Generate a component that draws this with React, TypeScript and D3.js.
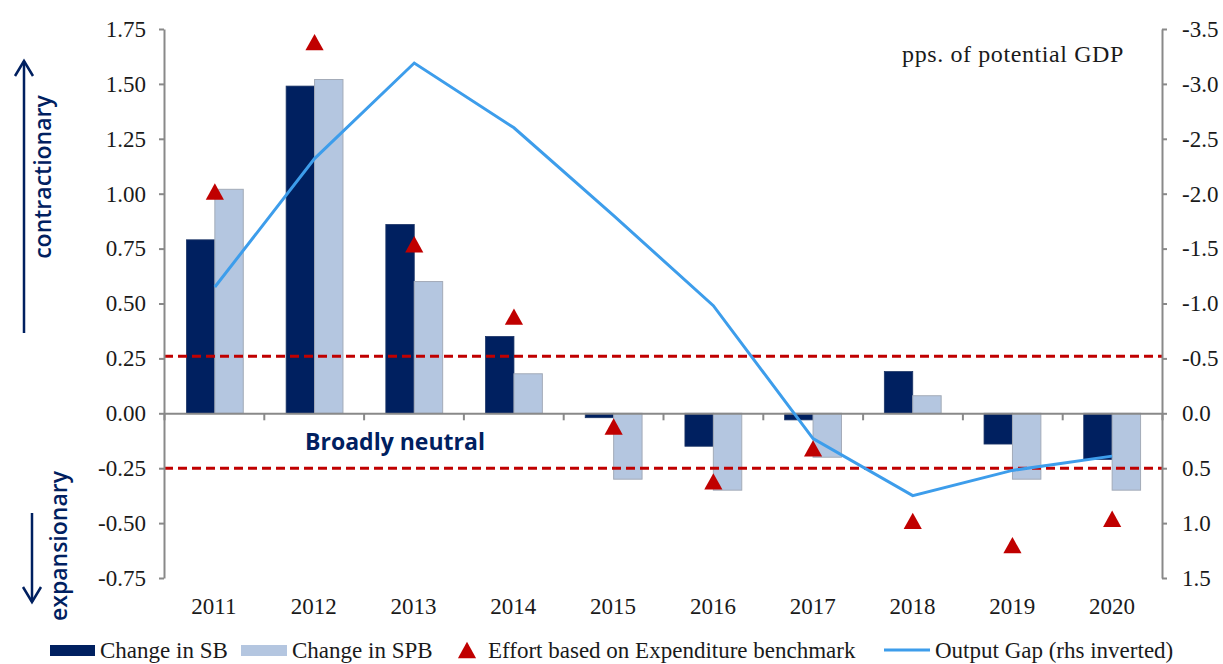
import { useEffect, useRef } from "react";
import { axisBottom, axisLeft, axisRight, line, scaleBand, scaleLinear, select, symbol } from "d3";

const years = ["2011", "2012", "2013", "2014", "2015", "2016", "2017", "2018", "2019", "2020"];
const changeSB = [0.79, 1.49, 0.86, 0.35, -0.02, -0.15, -0.03, 0.19, -0.14, -0.21];
const changeSPB = [1.02, 1.52, 0.6, 0.18, -0.3, -0.35, -0.2, 0.08, -0.3, -0.35];
const effortEB = [1.01, 1.69, 0.77, 0.44, -0.06, -0.31, -0.16, -0.49, -0.6, -0.48];
const outputGap = [-1.15, -2.32, -3.19, -2.6, -1.8, -0.98, 0.23, 0.75, 0.52, 0.39];
const leftTicks = [1.75, 1.5, 1.25, 1.0, 0.75, 0.5, 0.25, 0.0, -0.25, -0.5, -0.75];
const rightTicks = [-3.5, -3.0, -2.5, -2.0, -1.5, -1.0, -0.5, 0.0, 0.5, 1.0, 1.5];
const neutralBand = [0.26, -0.25];

const W = 1223;
const H = 664;
const left = 164;
const right = 1162;
const top = 29;
const bottom = 578;

const navy = "#002060";
const light = "#B4C6E0";
const red = "#C00000";
const blue = "#3D9DEB";
const grey = "#898989";
const serif = "'Liberation Serif', 'Times New Roman', serif";
const sans = "'Open Sans', 'Noto Sans', sans-serif";

// triangle centred on its bounding box, like the Excel marker
const tri = {
    draw(ctx: any, size: number) {
        const s = Math.sqrt(size);
        const h = s * 0.9;
        ctx.moveTo(0, -h / 2);
        ctx.lineTo(s / 2, h / 2);
        ctx.lineTo(-s / 2, h / 2);
        ctx.closePath();
    }
};

export default function App() {
    const leftRef = useRef<SVGGElement>(null);
    const rightRef = useRef<SVGGElement>(null);
    const zeroRef = useRef<SVGGElement>(null);
    const yearRef = useRef<SVGGElement>(null);

    const x = scaleBand().domain(years).range([left + 1, right]).paddingInner(0.43).paddingOuter(0.215);
    const y = scaleLinear().domain([-0.75, 1.75]).range([bottom, top]);
    const y2 = scaleLinear().domain([-3.5, 1.5]).range([top, bottom]);
    const slots = scaleLinear().domain([0, years.length]).range([left, right]);
    const bw = x.bandwidth() / 2;
    const cx = (yr: string) => (x(yr) ?? 0) + bw;

    useEffect(() => {
        const style = (g: any) => {
            g.select(".domain").attr("stroke", grey).attr("stroke-width", 2);
            g.selectAll(".tick line").attr("stroke", grey).attr("stroke-width", 2);
            g.selectAll("text").attr("font-family", serif).attr("font-size", 23).attr("fill", "#1a1a1a");
            g.attr("font-family", serif);
        };
        if (leftRef.current) {
            const g = select(leftRef.current);
            g.call(axisLeft(y).tickValues(leftTicks).tickSizeInner(5).tickSizeOuter(0).tickPadding(13)
                .tickFormat((d: any) => d.toFixed(2)));
            style(g);
        }
        if (rightRef.current) {
            const g = select(rightRef.current);
            g.call(axisRight(y2).tickValues(rightTicks).tickSizeInner(5).tickSizeOuter(0).tickPadding(15)
                .tickFormat((d: any) => d.toFixed(1)));
            style(g);
        }
        if (zeroRef.current) {
            const g = select(zeroRef.current);
            g.call(axisBottom(slots).tickValues(years.map((_, i) => i).concat([years.length]))
                .tickSizeInner(7).tickSizeOuter(0).tickFormat(() => ""));
            style(g);
        }
        if (yearRef.current) {
            const g = select(yearRef.current);
            g.call(axisBottom(scaleBand().domain(years).range([left, right])).tickSize(0).tickPadding(20));
            g.select(".domain").remove();
            style(g);
        }
    }, []);

    const gapLine = line<number>()
        .x((_, i) => cx(years[i]))
        .y((d) => y2(d));

    const marker = symbol(tri as any, 330)();

    const legendY = 650;

    return (
        <svg width={W} height={H} style={{ position: "absolute", left: 0, top: 0, background: "#fff" }}>
            {years.map((yr, i) => (
                <g key={`bars-${yr}`}>
                    <rect
                        x={x(yr)}
                        y={y(Math.max(0, changeSB[i]))}
                        width={bw}
                        height={Math.abs(y(changeSB[i]) - y(0))}
                        fill={navy}
                        stroke="#1c3566"
                        strokeWidth={0.8}
                    />
                    <rect
                        x={cx(yr)}
                        y={y(Math.max(0, changeSPB[i]))}
                        width={bw}
                        height={Math.abs(y(changeSPB[i]) - y(0))}
                        fill={light}
                        stroke="#a3abb8"
                        strokeWidth={1}
                    />
                </g>
            ))}

            {neutralBand.map((v) => (
                <line
                    key={`band-${v}`}
                    x1={left}
                    x2={right}
                    y1={y(v)}
                    y2={y(v)}
                    stroke={red}
                    strokeWidth={3}
                    strokeDasharray="9 5"
                />
            ))}

            <g ref={zeroRef} transform={`translate(0, ${y(0)})`} />
            <g ref={leftRef} transform={`translate(${left}, 0)`} />
            <g ref={rightRef} transform={`translate(${right}, 0)`} />
            <g ref={yearRef} transform={`translate(0, ${bottom})`} />

            <path d={gapLine(outputGap) ?? ""} fill="none" stroke={blue} strokeWidth={3} />

            {years.map((yr, i) => (
                <path key={`eff-${yr}`} d={marker ?? ""} transform={`translate(${cx(yr)}, ${y(effortEB[i])})`} fill={red} />
            ))}

            <text x={1124} y={62} textAnchor="end" fontFamily={serif} fontSize={24} letterSpacing={0.6} fill="#1a1a1a">
                pps. of potential GDP
            </text>
            <text x={395} y={450} textAnchor="middle" fontFamily={sans} fontWeight={700} fontSize={23} fill={navy}>
                Broadly neutral
            </text>

            {/* direction arrows */}
            <g stroke={navy} strokeWidth={2.5} fill="none">
                <line x1={24} x2={24} y1={61} y2={333} />
                <polyline points="15,76 24,61 33,76" />
                <line x1={32} x2={32} y1={513} y2={602} />
                <polyline points="23,587 32,602 41,587" />
            </g>
            <text transform="translate(51, 177) rotate(-90)" textAnchor="middle" fontFamily={sans} fontWeight={600} fontSize={23} fill={navy}>
                contractionary
            </text>
            <text transform="translate(67, 546) rotate(-90)" textAnchor="middle" fontFamily={sans} fontWeight={600} fontSize={23} fill={navy}>
                expansionary
            </text>

            {/* legend */}
            <g fontFamily={serif} fontSize={23} fill="#1a1a1a">
                <rect x={50} y={legendY - 5} width={45} height={11} fill={navy} />
                <text x={100} y={legendY + 8}>Change in SB</text>
                <rect x={241} y={legendY - 5} width={46} height={11} fill={light} />
                <text x={292} y={legendY + 8}>Change in SPB</text>
                <path d={marker ?? ""} transform={`translate(467, ${legendY})`} fill={red} />
                <text x={488} y={legendY + 8}>Effort based on Expenditure benchmark</text>
                <line x1={884} x2={930} y1={legendY} y2={legendY} stroke={blue} strokeWidth={3} />
                <text x={935} y={legendY + 8}>Output Gap (rhs inverted)</text>
            </g>
        </svg>
    );
}
